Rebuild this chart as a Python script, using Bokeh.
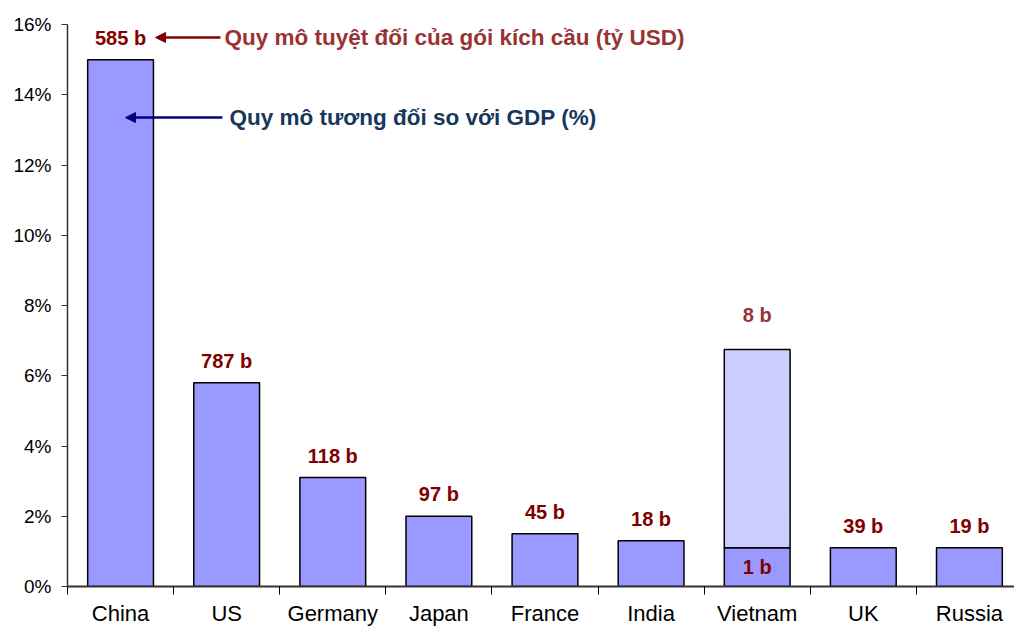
from bokeh.plotting import figure
from bokeh.models import (ColumnDataSource, FixedTicker, Range1d, Arrow, NormalHead,
                          Label, LabelSet)
from bokeh.core.properties import value
from bokeh.embed import file_html
from bokeh.resources import INLINE

# ---- data ----
countries = ["China", "US", "Germany", "Japan", "France", "India", "Vietnam", "UK", "Russia"]
gdp_pct = [15.0, 5.8, 3.1, 2.0, 1.5, 1.3, 1.1, 1.1, 1.1]
size_labels = ["585 b", "787 b", "118 b", "97 b", "45 b", "18 b", "1 b", "39 b", "19 b"]
vietnam_total_pct = 6.75
vietnam_total_label = "8 b"
y_ticks = [0, 2, 4, 6, 8, 10, 12, 14, 16]
note_abs = "Quy mô tuyệt đối của gói kích cầu (tỷ USD)"
note_rel = "Quy mô tương đối so với GDP (%)"

FONT = "Liberation Sans"
BAR = "#9999FF"
BAR_LIGHT = "#CCCCFF"
DARK_RED = "#800000"

xs = list(range(len(countries)))
vi = countries.index("Vietnam")

p = figure(width=1014, height=628, output_backend="svg", toolbar_location=None,
           x_range=Range1d(-0.5, 8.425), y_range=Range1d(0, 16),
           min_border_left=67, min_border_right=0, min_border_top=24, min_border_bottom=42)
p.outline_line_color = None
p.xgrid.visible = False
p.ygrid.visible = False
p.background_fill_color = "white"

src = ColumnDataSource(dict(x=xs, top=gdp_pct, lab=size_labels))
p.vbar(x="x", top="top", width=0.62, source=src, fill_color=BAR,
       line_color="black", line_width=1.5)
# Vietnam upper segment
p.vbar(x=[vi], bottom=[gdp_pct[vi]], top=[vietnam_total_pct], width=0.62,
       fill_color=BAR_LIGHT, line_color="black", line_width=1.5)

# labels above bars (except Vietnam)
others = [i for i in xs if i != vi]
lsrc = ColumnDataSource(dict(x=[xs[i] for i in others], y=[gdp_pct[i] for i in others],
                             t=[size_labels[i] for i in others]))
p.add_layout(LabelSet(x="x", y="y", text="t", source=lsrc, y_offset=22,
                      text_align="center", text_baseline="middle",
                      text_font=value(FONT), text_font_style="bold",
                      text_font_size=value("20px"), text_color=DARK_RED))
p.add_layout(Label(x=vi, y=gdp_pct[vi] / 2, text=size_labels[vi], text_align="center",
                   text_baseline="middle", text_font=FONT, text_font_style="bold",
                   text_font_size="20px", text_color=DARK_RED))
p.add_layout(Label(x=vi, y=vietnam_total_pct, y_offset=34, text=vietnam_total_label,
                   text_align="center", text_baseline="middle", text_font=FONT,
                   text_font_style="bold", text_font_size="20px", text_color="#993333"))

# annotations
p.add_layout(Arrow(end=NormalHead(size=10, fill_color=DARK_RED, line_color=DARK_RED),
                   x_start=0.942, y_start=15.63, x_end=0.33, y_end=15.63,
                   line_color=DARK_RED, line_width=2.5))
p.add_layout(Label(x=0.98, y=15.63, text=note_abs, text_align="left", text_baseline="middle",
                   text_font=FONT, text_font_style="bold", text_font_size="22.5px",
                   text_color="#993333"))
p.add_layout(Arrow(end=NormalHead(size=10, fill_color="#000080", line_color="#000080"),
                   x_start=0.96, y_start=13.35, x_end=0.047, y_end=13.35,
                   line_color="#000080", line_width=2.5))
p.add_layout(Label(x=1.027, y=13.35, text=note_rel, text_align="left", text_baseline="middle",
                   text_font=FONT, text_font_style="bold", text_font_size="22.5px",
                   text_color="#17375E"))

# axes
xa = p.xaxis[0]
xa.ticker = FixedTicker(ticks=xs, minor_ticks=[i - 0.5 for i in range(len(countries) + 1)])
xa.major_label_overrides = {i: c for i, c in enumerate(countries)}
xa.major_tick_out = 0
xa.major_tick_in = 0
xa.minor_tick_out = 8
xa.minor_tick_in = 0
xa.minor_tick_line_color = "black"
xa.minor_tick_line_width = 1
xa.axis_line_color = "#333333"
xa.axis_line_width = 2
xa.major_label_standoff = 6
xa.major_label_text_font = FONT
xa.major_label_text_font_size = "22px"
xa.major_label_text_color = "black"

ya = p.yaxis[0]
ya.ticker = FixedTicker(ticks=y_ticks)
ya.major_label_overrides = {t: f"{t}%" for t in y_ticks}
ya.major_tick_out = 6
ya.major_tick_in = 0
ya.minor_tick_line_color = None
ya.axis_line_color = "#333333"
ya.axis_line_width = 1.5
ya.major_tick_line_color = "#333333"
ya.major_label_standoff = 10
ya.major_label_text_font = FONT
ya.major_label_text_font_size = "19px"
ya.major_label_text_color = "black"

open("out.html", "w").write(file_html(p, INLINE))
